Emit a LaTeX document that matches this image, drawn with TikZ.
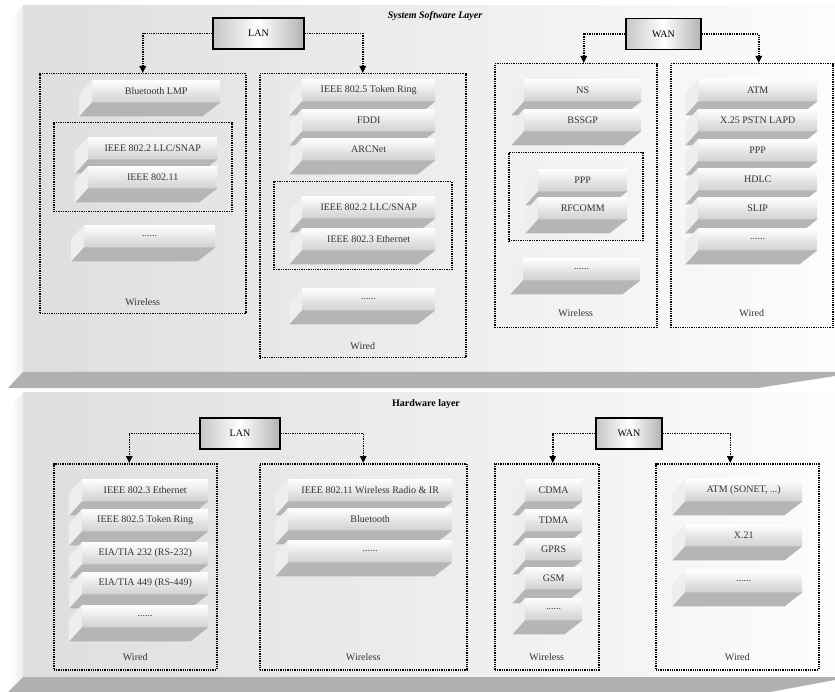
\documentclass[tikz,border=0pt]{standalone}
\usepackage{fontspec}
\setmainfont{Liberation Serif}
\usepackage{tikz}
\usetikzlibrary{positioning,arrows.meta}

% one raised slab: front face with its label, a bevel on the left and the base below
\newcommand{\slabbox}[5]{%
  \node[slabface, anchor=north west, minimum width=#4pt] (#1) at (#2,#3) {#5};
  \fill[slabside] (#1.north west) -- (#1.south west) -- ++(-13,14) -- ++(0,-22) -- cycle;
  \fill[slabbase] (#1.south west) -- (#1.south east) -- ++(-18,14) -- ++({-#4+5},0) -- cycle;
}

\tikzset{
  panel/.style={left color=gray!26, right color=gray!2},
  panelside/.style={left color=white, right color=gray!14},
  panelbase/.style={fill=gray!62},
  netbox/.style={draw, line width=1.6pt, minimum width=80pt, minimum height=31pt,
    left color=gray!45, right color=gray!60, middle color=white, font=\fontsize{10}{12}\selectfont},
  grp/.style={draw, line width=1.5pt, dash pattern=on 1.3pt off 1pt, inner sep=0pt},
  link/.style={line width=1.5pt, dash pattern=on 1.3pt off 1pt, -{Triangle[length=7pt,width=6.5pt]}},
  slabface/.style={top color=white, bottom color=gray!36, inner sep=0pt, minimum height=22pt,
    font=\fontsize{10}{12}\selectfont, text=black!80},
  slabside/.style={fill=gray!13},
  slabbase/.style={fill=gray!58},
  kind/.style={font=\fontsize{10}{12}\selectfont, text=black!80}
}

\begin{document}
\begin{tikzpicture}[x=1pt, y=-1pt]
  \useasboundingbox (0,0) rectangle (835,692);

  % the two layers
  \shade[panel] (23,6) rectangle (835,372);
  \shade[panelside] (10,20) -- (23,6) -- (23,372) -- (10,388) -- cycle;
  \fill[panelbase] (23,372) -- (835,372) -- (835,376) -- (758,388) -- (8,388) -- cycle;
  \shade[panel] (23,392) rectangle (835,677);
  \shade[panelside] (10,405) -- (23,392) -- (23,677) -- (10,692) -- cycle;
  \fill[panelbase] (23,677) -- (835,677) -- (835,680) -- (770,692) -- (8,692) -- cycle;

  \node[font=\bfseries\itshape\fontsize{10}{12}\selectfont] (swtitle) at (435,16) {System Software Layer};
  \node[font=\bfseries\fontsize{10}{12}\selectfont] (hwtitle) at (426,404) {Hardware layer};

  %% system software layer
  \node[netbox, minimum width=91pt] (swlan) at (258.5,33.5) {LAN};
  \node[netbox, minimum width=75pt] (swwan) at (663.5,34) {WAN};

  \node[grp, anchor=north west, minimum width=206pt, minimum height=240pt] (swlanwl) at (39,73) {};
  \node[grp, anchor=north west, minimum width=206pt, minimum height=284pt] (swlanwd) at (259,73) {};
  \node[grp, anchor=north west, minimum width=162pt, minimum height=264pt] (swwanwl) at (494,63) {};
  \node[grp, anchor=north west, minimum width=162pt, minimum height=264pt] (swwanwd) at (670,63) {};
  \node[grp, anchor=north west, minimum width=178pt, minimum height=89pt] (swlanwlin) at (53,122) {};
  \node[grp, anchor=north west, minimum width=178pt, minimum height=88pt] (swlanwdin) at (273,181) {};
  \node[grp, anchor=north west, minimum width=134pt, minimum height=88pt] (swwanwlin) at (508,152) {};

  \draw[link] (swlan.west) -| (swlanwl.north);
  \draw[link] (swlan.east) -| (swlanwd.north);
  \draw[link] (swwan.west) -| ([xshift=8pt]swwanwl.north);
  \draw[link] (swwan.east) -| ([xshift=7pt]swwanwd.north);

  \slabbox{btlmp}{92}{80}{128}{Bluetooth LMP}
  \slabbox{llcwl}{88}{137}{129}{IEEE 802.2 LLC/SNAP}
  \slabbox{wifi}{88}{166}{129}{IEEE 802.11}
  \slabbox{swdotsa}{84}{225}{131}{......}

  \slabbox{tokring}{302}{79}{133}{IEEE 802.5 Token Ring}
  \slabbox{fddi}{302}{109}{133}{FDDI}
  \slabbox{arcnet}{302}{138}{133}{ARCNet}
  \slabbox{llcwd}{302}{196}{133}{IEEE 802.2 LLC/SNAP}
  \slabbox{ether}{302}{228}{133}{IEEE 802.3 Ethernet}
  \slabbox{swdotsb}{302}{288}{133}{......}

  \slabbox{ns}{524}{79}{117}{NS}
  \slabbox{bssgp}{524}{109}{117}{BSSGP}
  \slabbox{pppwl}{538}{169}{89}{PPP}
  \slabbox{rfcomm}{538}{197}{89}{RFCOMM}
  \slabbox{swdotsc}{523}{258}{117}{......}

  \slabbox{atm}{698}{79}{119}{ATM}
  \slabbox{xpstn}{698}{109}{119}{X.25 PSTN LAPD}
  \slabbox{pppwd}{698}{139}{119}{PPP}
  \slabbox{hdlc}{698}{168}{119}{HDLC}
  \slabbox{slip}{698}{197}{119}{SLIP}
  \slabbox{swdotsd}{698}{228}{119}{......}

  \node[kind] (swlanwltag) at ([yshift=12pt]swlanwl.south) {Wireless};
  \node[kind] (swlanwdtag) at ([yshift=12pt]swlanwd.south) {Wired};
  \node[kind] (swwanwltag) at ([yshift=15pt]swwanwl.south) {Wireless};
  \node[kind] (swwanwdtag) at ([yshift=15pt]swwanwd.south) {Wired};

  %% hardware layer
  \node[netbox] (hwlan) at (240,433.5) {LAN};
  \node[netbox, minimum width=66pt] (hwwan) at (629,433.5) {WAN};

  \node[grp, anchor=north west, minimum width=163pt, minimum height=206pt] (hwlanwd) at (53,463) {};
  \node[grp, anchor=north west, minimum width=207pt, minimum height=206pt] (hwlanwl) at (259,463) {};
  \node[grp, anchor=north west, minimum width=104pt, minimum height=206pt] (hwwanwl) at (494,463) {};
  \node[grp, anchor=north west, minimum width=163pt, minimum height=206pt] (hwwanwd) at (655,463) {};

  \draw[link] (hwlan.west) -| ([xshift=-6pt]hwlanwd.north);
  \draw[link] (hwlan.east) -| (hwlanwl.north);
  \draw[link] (hwwan.west) -| ([xshift=6pt]hwwanwl.north);
  \draw[link] (hwwan.east) -| ([xshift=-7pt]hwwanwd.north);

  \slabbox{hwether}{82}{479}{126}{IEEE 802.3 Ethernet}
  \slabbox{hwtokring}{82}{509}{126}{IEEE 802.5 Token Ring}
  \slabbox{rsa}{82}{542}{126}{EIA/TIA 232 (RS-232)}
  \slabbox{rsb}{82}{572}{126}{EIA/TIA 449 (RS-449)}
  \slabbox{hwdotsa}{82}{605}{126}{......}

  \slabbox{radio}{288}{479}{164}{IEEE 802.11 Wireless Radio \& IR}
  \slabbox{bt}{288}{508}{164}{Bluetooth}
  \slabbox{hwdotsb}{288}{540}{164}{......}

  \slabbox{cdma}{525}{479}{57}{CDMA}
  \slabbox{tdma}{525}{509}{57}{TDMA}
  \slabbox{gprs}{525}{538}{57}{GPRS}
  \slabbox{gsm}{525}{567}{57}{GSM}
  \slabbox{hwdotsc}{525}{598}{57}{......}

  \slabbox{sonet}{685}{479}{117}{ATM (SONET, ...)}
  \slabbox{xxi}{685}{524}{117}{X.21}
  \slabbox{hwdotsd}{685}{570}{117}{......}

  \node[kind] (hwlanwdtag) at ([yshift=13pt]hwlanwd.south) {Wired};
  \node[kind] (hwlanwltag) at ([yshift=13pt]hwlanwl.south) {Wireless};
  \node[kind] (hwwanwltag) at ([yshift=13pt]hwwanwl.south) {Wireless};
  \node[kind] (hwwanwdtag) at ([yshift=13pt]hwwanwd.south) {Wired};
\end{tikzpicture}
\end{document}
